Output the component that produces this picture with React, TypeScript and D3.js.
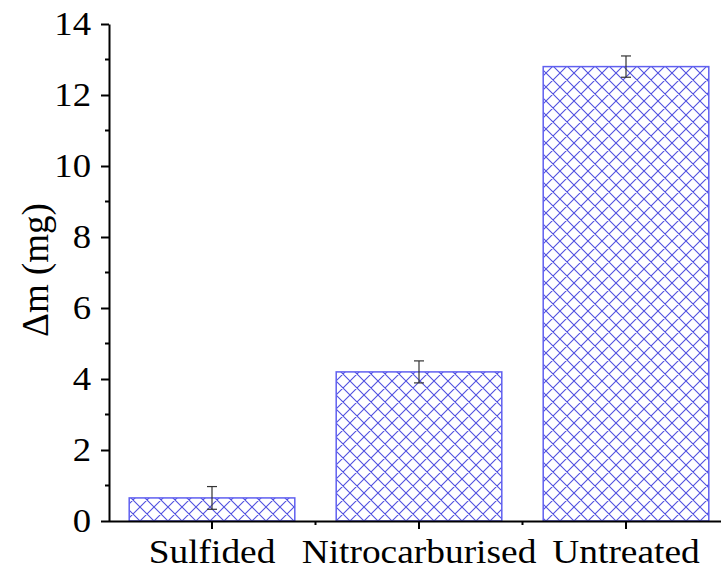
import React, { useEffect, useRef } from "react";
import * as d3 from "d3";

// data
const categories = ["Sulfided", "Nitrocarburised", "Untreated"];
const massLoss = [0.65, 4.2, 12.8];
const errors = [0.32, 0.31, 0.3];
const yTicks = [0, 2, 4, 6, 8, 10, 12, 14];
const yMinorTicks = [1, 3, 5, 7, 9, 11, 13];

const W = 721;
const H = 571;
const FONT = "Liberation Serif, Times New Roman, DejaVu Serif, serif";

// the reference text is a bit wider than plain Times, stretch it sideways
function stretch(sel: d3.Selection<any, any, any, any>, k: number) {
  sel.each(function () {
    const t = this as SVGTextElement;
    const len = t.getComputedTextLength();
    t.setAttribute("textLength", String(len * k));
    t.setAttribute("lengthAdjust", "spacingAndGlyphs");
  });
}

export default function App() {
  const ref = useRef<SVGSVGElement>(null);

  useEffect(() => {
    const svg = d3.select(ref.current);
    svg.selectAll("*").remove();

    const x = d3.scaleBand<string>().domain(categories).range([108.5, 729.5]).paddingInner(0.2).paddingOuter(0.1);
    const y = d3.scaleLinear().domain([0, 14]).range([521, 24]);

    // crosshatch pattern
    const defs = svg.append("defs");
    const pat = defs.append("pattern")
      .attr("id", "hatch")
      .attr("patternUnits", "userSpaceOnUse")
      .attr("width", 14)
      .attr("height", 14)
      .attr("x", 0)
      .attr("y", 3);
    pat.append("path")
      .attr("d", "M0,0L14,14M0,14L14,0M-1,1L1,-1M13,15L15,13M-1,13L1,15M13,-1L15,1")
      .attr("stroke", "#5050e0")
      .attr("stroke-width", 1.1)
      .attr("fill", "none");

    const data = categories.map((c, i) => ({ c, v: massLoss[i], e: errors[i] }));

    // bars
    svg.append("g").selectAll("rect")
      .data(data)
      .join("rect")
      .attr("x", d => x(d.c)!)
      .attr("y", d => y(d.v))
      .attr("width", x.bandwidth())
      .attr("height", d => y(0) - y(d.v))
      .attr("fill", "url(#hatch)")
      .attr("stroke", "#6060f0")
      .attr("stroke-width", 1.5);

    // error bars
    const eb = svg.append("g").attr("stroke", "#333").attr("stroke-width", 1.2);
    data.forEach(d => {
      const cx = x(d.c)! + x.bandwidth() / 2;
      eb.append("line").attr("x1", cx).attr("x2", cx).attr("y1", y(d.v - d.e)).attr("y2", y(d.v + d.e));
      eb.append("line").attr("x1", cx - 5).attr("x2", cx + 5).attr("y1", y(d.v + d.e)).attr("y2", y(d.v + d.e));
      eb.append("line").attr("x1", cx - 5).attr("x2", cx + 5).attr("y1", y(d.v - d.e)).attr("y2", y(d.v - d.e));
    });

    // y axis
    const yAxis = svg.append("g").attr("transform", "translate(109,0)");
    yAxis.call(d3.axisLeft(y).tickValues(yTicks).tickSize(8).tickPadding(10).tickSizeOuter(0));
    yAxis.attr("font-family", null);
    yAxis.select(".domain").attr("stroke", "#000").attr("stroke-width", 2);
    yAxis.selectAll(".tick line").attr("stroke-width", 2);
    const yLabels = yAxis.selectAll(".tick text")
      .style("font-family", FONT)
      .style("font-size", "34px")
      .attr("fill", "#000");
    stretch(yLabels, 1.08);
    yAxis.append("g").selectAll("line")
      .data(yMinorTicks)
      .join("line")
      .attr("x1", 0).attr("x2", -4)
      .attr("y1", d => y(d)).attr("y2", d => y(d))
      .attr("stroke", "#000").attr("stroke-width", 2);

    // x axis
    const xAxis = svg.append("g").attr("transform", `translate(0,${y(0)})`);
    xAxis.call(d3.axisBottom(x).tickSize(8).tickSizeOuter(0));
    xAxis.attr("font-family", null);
    xAxis.select(".domain").attr("stroke", "#000").attr("stroke-width", 2);
    xAxis.selectAll(".tick line").attr("stroke-width", 2);
    const xLabels = xAxis.selectAll(".tick text")
      .attr("y", 42)
      .attr("dy", null)
      .style("font-family", FONT)
      .style("font-size", "34px")
      .attr("fill", "#000");
    stretch(xLabels, 1.1);
    const step = x.step();
    xAxis.append("g").selectAll("line")
      .data(d3.range(1, categories.length))
      .join("line")
      .attr("x1", i => 108.5 + i * step).attr("x2", i => 108.5 + i * step)
      .attr("y1", 0).attr("y2", 4)
      .attr("stroke", "#000").attr("stroke-width", 2);

    // y title
    svg.append("text")
      .attr("transform", "translate(48,270) rotate(-90)")
      .attr("text-anchor", "middle")
      .style("font-family", FONT)
      .style("font-size", "37px")
      .attr("fill", "#000")
      .text("Δm (mg)");
  }, []);

  return (
    <svg ref={ref} width={W} height={H} style={{ position: "absolute", left: 0, top: 0, background: "#fff" }} />
  );
}
